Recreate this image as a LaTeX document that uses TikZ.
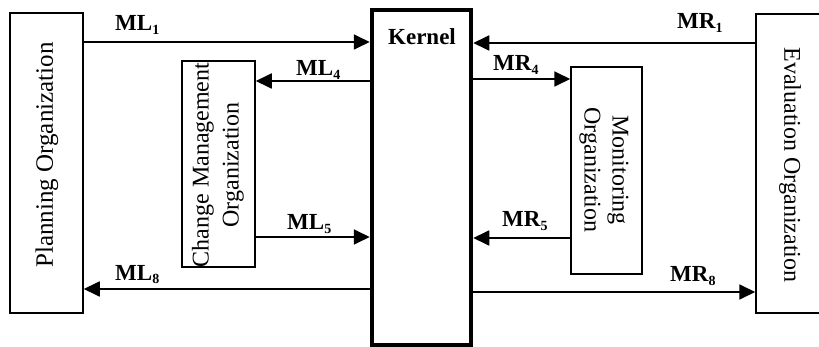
\documentclass[tikz,border=0pt]{standalone}
\usepackage{fontspec}
\setmainfont{Liberation Serif}
\usetikzlibrary{arrows.meta}
\newcommand\msub[2]{#1\raisebox{-0.35ex}{\fontsize{14}{14}\selectfont #2}}
\begin{document}
\begin{tikzpicture}[x=1pt,y=-1pt,
  box/.style={draw, line width=1.5pt, inner sep=0pt},
  arr/.style={line width=1.8pt, -{Triangle[length=16pt,width=15pt]}},
  lbl/.style={font=\bfseries\fontsize{23}{25}\selectfont, inner sep=0pt, anchor=base west},
  vtext/.style={font=\fontsize{24}{29}\selectfont, align=center, inner sep=0pt}]
\useasboundingbox (0,0) rectangle (819,347);
% boxes
\node[box, minimum width=73pt, minimum height=300pt] (plan) at (46.5,163) {};
\node[box, minimum width=73pt, minimum height=206pt] (cm) at (218.5,164) {};
\node[box, line width=4.5pt, minimum width=99pt, minimum height=335pt] (kernel) at (421.5,177.5) {};
\node[box, minimum width=71pt, minimum height=207pt] (mon) at (606.5,170.5) {};
\node[box, minimum width=70pt, minimum height=299pt] (eval) at (791,163.5) {};
% texts
\node[vtext, font=\fontsize{25}{29}\selectfont, rotate=90] (plantext) at (47,155) {Planning Organization};
\node[vtext, rotate=90, font=\fontsize{24}{30}\selectfont] (cmtext) at (218,165) {Change Management\\Organization};
\node[vtext, rotate=-90, font=\fontsize{24}{28}\selectfont] (montext) at (604,170) {Monitoring\\Organization};
\node[vtext, rotate=-90] (evaltext) at (790,165) {Evaluation Organization};
\node[font=\bfseries\fontsize{23}{25}\selectfont, inner sep=0pt, anchor=base] (ktext) at (422,45) {Kernel};
% rows
\coordinate (r1) at (0,42);
\coordinate (r4) at (0,81);
\coordinate (r5) at (0,237);
\coordinate (r8) at (0,289);
\coordinate (s1) at (0,43);
\coordinate (s4) at (0,79);
\coordinate (s5) at (0,238);
\coordinate (s8) at (0,292);
% arrows left
\draw[arr] (plan.east |- r1) -- (kernel.west |- r1);
\draw[arr] (kernel.west |- r4) -- (cm.east |- r4);
\draw[arr] (cm.east |- r5) -- (kernel.west |- r5);
\draw[arr] (kernel.west |- r8) -- (plan.east |- r8);
% arrows right
\draw[arr] (eval.west |- s1) -- (kernel.east |- s1);
\draw[arr] (kernel.east |- s4) -- (mon.west |- s4);
\draw[arr] (mon.west |- s5) -- (kernel.east |- s5);
\draw[arr] (kernel.east |- s8) -- (eval.west |- s8);
% labels
\node[lbl] (lml1) at (115,31) {\msub{ML}{1}};
\node[lbl] (lml4) at (296,76) {\msub{ML}{4}};
\node[lbl] (lml5) at (287,230) {\msub{ML}{5}};
\node[lbl] (lml8) at (115,280) {\msub{ML}{8}};
\node[lbl] (lmr1) at (677,29) {\msub{MR}{1}};
\node[lbl] (lmr4) at (493,71) {\msub{MR}{4}};
\node[lbl] (lmr5) at (502,227) {\msub{MR}{5}};
\node[lbl] (lmr8) at (670,282) {\msub{MR}{8}};
\end{tikzpicture}
\end{document}
